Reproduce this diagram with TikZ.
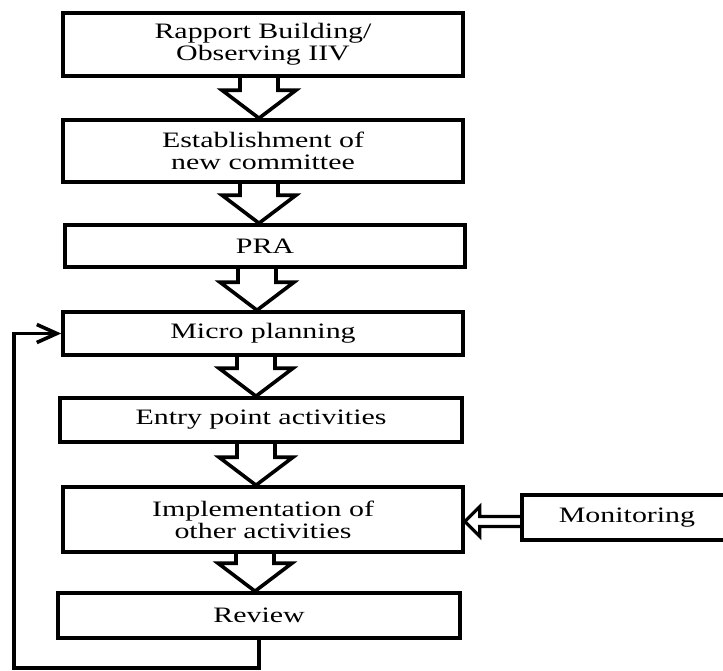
\documentclass[tikz,border=0pt]{standalone}
\usepackage{fontspec}
\setmainfont{Liberation Serif}[FakeStretch=1.36]
\usetikzlibrary{calc,arrows.meta}
\tikzset{
  box/.style={draw, line width=3.6pt, inner sep=0pt, align=center,
    font=\fontsize{22pt}{22pt}\selectfont, line join=miter},
  blockline/.style={draw, line width=3.6pt, line join=miter},
  hollowline/.style={draw, line width=3.2pt, line join=miter},
  loopline/.style={draw, line width=3.6pt, line join=miter,
    -{Straight Barb[length=20pt,width=18pt,line width=3.6pt]}},
}
% block arrow from node #1 (south) to node #2 (north), centred at x = #3
\newcommand{\blockarr}[3]{%
  \draw[blockline] let \p1=(#1.south), \p2=(#2.north) in
    (#3pt-19pt,\y1) -- (#3pt-19pt,\y2+28pt) -- (#3pt-37pt,\y2+28pt) --
    (#3pt,\y2) -- (#3pt+37pt,\y2+28pt) -- (#3pt+19pt,\y2+28pt) -- (#3pt+19pt,\y1);}
\begin{document}
\begin{tikzpicture}[x=1pt,y=1pt]
\useasboundingbox (0,0) rectangle (723,-670);

\node[box, minimum width=400pt, minimum height=63pt] (b1) at (263,-44.5) {Rapport Building/\\Observing IIV};
\node[box, minimum width=400pt, minimum height=62pt] (b2) at (263,-151) {Establishment of\\new committee};
\node[box, minimum width=400pt, minimum height=42pt] (b3) at (265,-246) {PRA};
\node[box, minimum width=400pt, minimum height=43pt] (b4) at (263,-333.5) {Micro planning};
\node[box, minimum width=402pt, minimum height=44pt] (b5) at (261,-420) {Entry point activities};
\node[box, minimum width=400pt, minimum height=65pt] (b6) at (263,-519.5) {Implementation of\\other activities};
\node[box, minimum width=402pt, minimum height=45pt] (b7) at (259,-615.5) {Review};
\node[box, minimum width=210pt, minimum height=45pt] (mon) at (627,-517.5) {Monitoring};

\blockarr{b1}{b2}{259}
\blockarr{b2}{b3}{259}
\blockarr{b3}{b4}{257}
\blockarr{b4}{b5}{256}
\blockarr{b5}{b6}{256}
\blockarr{b6}{b7}{255}

% hollow arrow from Monitoring to Implementation
\draw[hollowline] let \p1=(mon.west), \p2=(b6.east) in
  (\x1,\y2+3pt) -- (\x2+15pt,\y2+3pt) -- (\x2+15pt,\y2+13pt) -- (\x2,\y2-2pt) --
  (\x2+15pt,\y2-17pt) -- (\x2+15pt,\y2-7pt) -- (\x1,\y2-7pt);

% feedback loop
\coordinate (corner) at (14,-668);
\draw[loopline] (b7.south) |- (corner) |- (b4.west);
\end{tikzpicture}
\end{document}
